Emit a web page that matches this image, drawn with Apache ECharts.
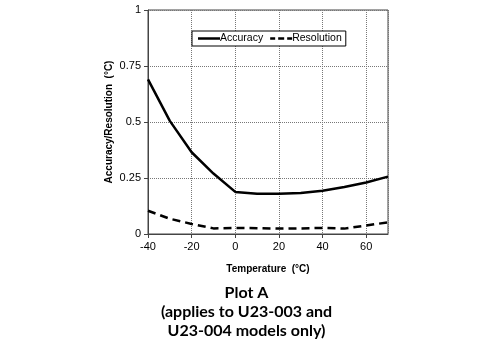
<!DOCTYPE html>
<html>
<head>
<meta charset="utf-8">
<script src="https://cdn.jsdelivr.net/npm/echarts@6/dist/echarts.min.js"></script>
<style>
  html, body { margin: 0; padding: 0; background: #fff; }
  #chart { width: 493px; height: 342px; }
</style>
</head>
<body>
<div id="chart"></div>
<script>
// Temperature in °C
const temperatures = [-40, -30, -20, -10, 0, 10, 20, 30, 40, 50, 60, 70];
// Accuracy and resolution in °C
const accuracy   = [0.69, 0.505, 0.365, 0.27, 0.188, 0.18, 0.18, 0.183, 0.193, 0.21, 0.23, 0.256];
const resolution = [0.104, 0.068, 0.045, 0.025, 0.027, 0.026, 0.024, 0.025, 0.027, 0.024, 0.038, 0.052];
const yTicks = [0, 0.25, 0.5, 0.75, 1];

const chart = echarts.init(document.getElementById('chart'), null, { renderer: 'canvas' });

const pair = (xs, ys) => xs.map((x, i) => [x, ys[i]]);
const font = 'Liberation Sans, Arial, sans-serif';
const captionFont = 'Lato, Open Sans, sans-serif';

chart.setOption({
  backgroundColor: '#ffffff',
  animation: false,
  grid: {
    left: 148, top: 10, width: 240, height: 224,
    show: true, borderColor: '#444', borderWidth: 1, backgroundColor: 'transparent'
  },
  legend: {
    left: 192, top: 31,
    backgroundColor: '#fff', borderColor: '#000', borderWidth: 1,
    padding: [2, 4, 2, 6],
    itemWidth: 22, itemHeight: 10, itemGap: 7,
    textStyle: { fontFamily: font, fontSize: 10.5, color: '#000', padding: [0, 0, 0, -5] },
    data: [
      { name: 'Accuracy', icon: 'path://M0,4 L22,4 L22,6.5 L0,6.5 Z' },
      { name: 'Resolution', icon: 'path://M0,4 L5,4 L5,6.5 L0,6.5 Z M8,4 L14,4 L14,6.5 L8,6.5 Z M17,4 L22,4 L22,6.5 L17,6.5 Z' }
    ]
  },
  xAxis: {
    type: 'value', min: -40, max: 70, interval: 20,
    axisLine: { show: true, onZero: false, lineStyle: { color: '#444' } },
    axisTick: { show: true, length: 4, lineStyle: { color: '#444' } },
    axisLabel: { fontFamily: font, fontSize: 11, color: '#000', margin: 7, showMaxLabel: false },
    splitLine: { show: true, lineStyle: { type: 'dotted', color: '#777' } },
    name: 'Temperature  (°C)', nameLocation: 'middle', nameGap: 30,
    nameTextStyle: { fontFamily: font, fontSize: 10, fontWeight: 'bold', color: '#000' }
  },
  yAxis: {
    type: 'value', min: yTicks[0], max: yTicks[yTicks.length - 1], interval: 0.25,
    axisLine: { show: true, onZero: false, lineStyle: { color: '#444' } },
    axisTick: { show: true, length: 4, lineStyle: { color: '#444' } },
    axisLabel: { fontFamily: font, fontSize: 11, color: '#000', margin: 7 },
    splitLine: { show: true, lineStyle: { type: 'dotted', color: '#777' } },
    name: 'Accuracy/Resolution  (°C)', nameLocation: 'middle', nameGap: 34,
    nameTextStyle: { fontFamily: font, fontSize: 10, fontWeight: 'bold', color: '#000' }
  },
  title: [
    { text: 'Plot A', left: 'center', top: 280,
      textStyle: { fontFamily: captionFont, fontSize: 16, fontWeight: 'bold', color: '#000' } },
    { text: '(applies to U23-003 and', left: 'center', top: 299,
      textStyle: { fontFamily: captionFont, fontSize: 16, fontWeight: 'bold', color: '#000' } },
    { text: 'U23-004 models only)', left: 'center', top: 318,
      textStyle: { fontFamily: captionFont, fontSize: 16, fontWeight: 'bold', color: '#000' } }
  ],
  series: [
    {
      name: 'Accuracy', type: 'line', data: pair(temperatures, accuracy),
      symbol: 'none', color: '#000',
      lineStyle: { color: '#000', width: 2.5, type: 'solid' }
    },
    {
      name: 'Resolution', type: 'line', data: pair(temperatures, resolution),
      symbol: 'none', color: '#000',
      lineStyle: { color: '#000', width: 2.5, type: [8, 5] }
    }
  ]
});
</script>
</body>
</html>
